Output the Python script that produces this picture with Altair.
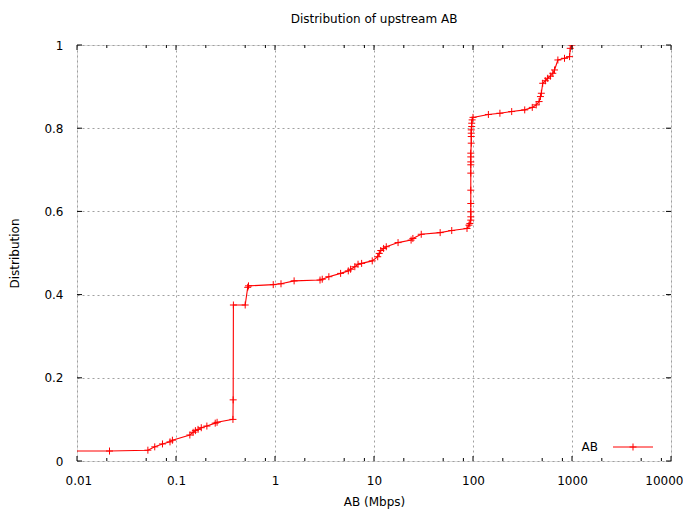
import altair as alt
import pandas as pd

# CDF points (AB in Mbps, cumulative fraction)
ab_mbps = [0.009, 0.0213, 0.052, 0.061, 0.073, 0.087, 0.092, 0.138, 0.149, 0.157,
           0.167, 0.180, 0.205, 0.249, 0.26, 0.376, 0.378, 0.38, 0.50, 0.53,
           0.54, 0.96, 1.15, 1.56, 2.85, 3.0, 3.5, 4.6, 5.5, 5.8,
           6.4, 6.9, 7.5, 9.6, 10.9, 11.3, 11.7, 12.5, 13.3, 17.5,
           23.7, 24.7, 30, 46.6, 61, 87, 91, 93, 95, 95,
           95, 95, 95, 95, 95, 95, 95, 95, 96, 96,
           96, 96, 97, 97, 98, 100, 143, 187, 246, 333,
           397, 435, 465, 480, 490, 506, 538, 568, 605, 640,
           666, 720, 840, 945, 960, 1000]
distribution = [0.024, 0.024, 0.026, 0.034, 0.041, 0.046, 0.050, 0.0625, 0.069, 0.073,
                0.076, 0.080, 0.084, 0.091, 0.093, 0.100, 0.147, 0.375, 0.375, 0.4175,
                0.421, 0.424, 0.426, 0.433, 0.435, 0.437, 0.443, 0.451, 0.457, 0.461,
                0.467, 0.473, 0.475, 0.481, 0.491, 0.499, 0.506, 0.511, 0.515, 0.525,
                0.531, 0.535, 0.545, 0.549, 0.554, 0.559, 0.567, 0.571, 0.579, 0.587,
                0.599, 0.619, 0.651, 0.692, 0.712, 0.719, 0.731, 0.740, 0.764, 0.780,
                0.788, 0.796, 0.804, 0.812, 0.820, 0.826, 0.833, 0.836, 0.840, 0.844,
                0.850, 0.856, 0.864, 0.876, 0.884, 0.908, 0.914, 0.920, 0.925, 0.932,
                0.940, 0.964, 0.968, 0.972, 0.992, 1.0]

x_major = [0.01, 0.1, 1, 10, 100, 1000, 10000]
x_minor = [m * d for d in [0.01, 0.1, 1, 10, 100, 1000] for m in (2, 5, 8)]
y_major = [0, 0.2, 0.4, 0.6, 0.8, 1.0]
series_name = ["AB"]

W, H = 594, 416
FONT = "DejaVu Sans"
PLUS = "M-1,0L1,0M0,-1L0,1"
RED = "#ff0000"

df = pd.DataFrame({"x": ab_mbps, "y": distribution, "i": range(len(ab_mbps))})
xscale = alt.Scale(type="log", domain=[0.01, 10000])
yscale = alt.Scale(domain=[0, 1])

xaxis = alt.Axis(values=x_major, format="~g", grid=True, gridColor="#a0a0a0",
                 gridDash=[2, 3], gridWidth=1, ticks=False, domain=False,
                 labelFont=FONT, labelFontSize=12, labelColor="#000",
                 labelPadding=14, title="AB (Mbps)", titleFont=FONT,
                 titleFontSize=12, titleFontWeight="normal", titleColor="#000",
                 titlePadding=10, labelFlush=True, labelFlushOffset=12)
yaxis = alt.Axis(values=y_major, format="~g", grid=True, gridColor="#a0a0a0",
                 gridDash=[2, 3], gridWidth=1, ticks=False, domain=False,
                 labelFont=FONT, labelFontSize=12, labelColor="#000",
                 labelPadding=14, title="Distribution", titleFont=FONT,
                 titleFontSize=12, titleFontWeight="normal", titleColor="#000",
                 titlePadding=22, labelFlush=False)

line = alt.Chart(df).mark_line(color=RED, strokeWidth=1.1, clip=True).encode(
    x=alt.X("x:Q", scale=xscale, axis=xaxis, title="AB (Mbps)"),
    y=alt.Y("y:Q", scale=yscale, axis=yaxis, title="Distribution"),
    order="i:Q",
)
pts = alt.Chart(df).mark_point(shape=PLUS, filled=False, stroke=RED, strokeWidth=1,
                               size=49, opacity=1, clip=True).encode(
    x=alt.X("x:Q", scale=xscale),
    y=alt.Y("y:Q", scale=yscale),
)

tick_color = "#000"
xmaj = pd.DataFrame({"x": x_major})
xmin = pd.DataFrame({"x": x_minor})
ymaj = pd.DataFrame({"y": y_major})

def xticks(data, length):
    bottom = alt.Chart(data).mark_rule(color=tick_color, strokeWidth=1).encode(
        x=alt.X("x:Q", scale=xscale),
        y=alt.value(H), y2=alt.value(H - length))
    top = alt.Chart(data).mark_rule(color=tick_color, strokeWidth=1).encode(
        x=alt.X("x:Q", scale=xscale),
        y=alt.value(0), y2=alt.value(length))
    return [bottom, top]

yt_left = alt.Chart(ymaj).mark_rule(color=tick_color, strokeWidth=1).encode(
    y=alt.Y("y:Q", scale=yscale), x=alt.value(0), x2=alt.value(5))
yt_right = alt.Chart(ymaj).mark_rule(color=tick_color, strokeWidth=1).encode(
    y=alt.Y("y:Q", scale=yscale), x=alt.value(W), x2=alt.value(W - 5))

leg = pd.DataFrame({"label": series_name})
leg_text = alt.Chart(leg).mark_text(align="right", baseline="middle", font=FONT,
                                    fontSize=12, color="#000").encode(
    text="label:N", x=alt.value(521), y=alt.value(402))
leg_line = alt.Chart(leg).mark_rule(color=RED, strokeWidth=1).encode(
    x=alt.value(536), x2=alt.value(576), y=alt.value(402))
leg_pt = alt.Chart(leg).mark_point(shape=PLUS, filled=False, stroke=RED,
                                   strokeWidth=1, size=49, opacity=1).encode(
    x=alt.value(556), y=alt.value(402))

chart = alt.layer(
    line, pts, *xticks(xmaj, 5), *xticks(xmin, 3), yt_left, yt_right,
    leg_text, leg_line, leg_pt,
).properties(
    width=W, height=H,
    title=alt.Title("Distribution of upstream AB", font=FONT, fontSize=12,
                    fontWeight="normal", color="#000", anchor="middle", offset=13),
    autosize=alt.AutoSizeParams(type="none"),
    padding={"left": 69, "top": 37, "right": 12, "bottom": 50},
).configure_view(stroke="#000", strokeWidth=1).configure(background="white")

chart.save("out.html", embed_options={"renderer": "svg", "actions": False})
